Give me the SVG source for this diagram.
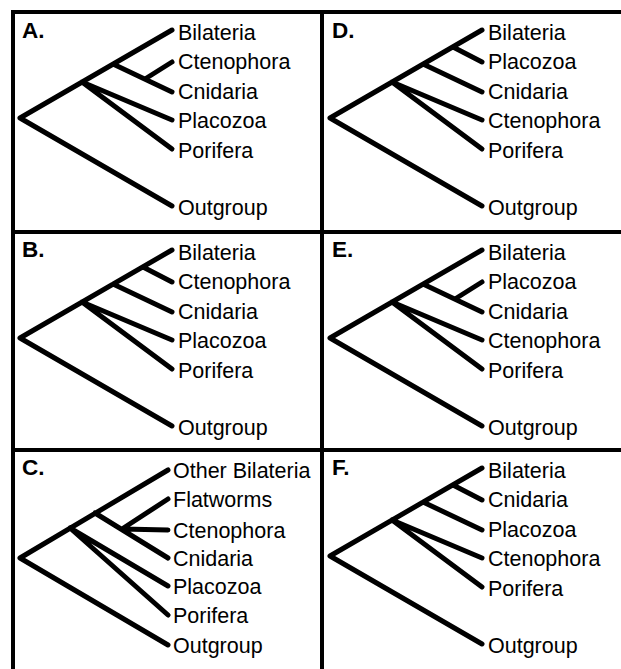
<svg xmlns="http://www.w3.org/2000/svg" width="621" height="669" viewBox="0 0 621 669">
<style>
.frame{stroke:#000;stroke-width:4;fill:none}
.br{stroke:#000;stroke-width:5;stroke-linecap:round;fill:none}
.lb{font-family:"Liberation Sans",Arial,Helvetica,sans-serif;font-size:21.5px;fill:#000}
.pl{font-family:"Liberation Sans",Arial,Helvetica,sans-serif;font-size:22.5px;font-weight:bold;fill:#000}
</style>
<defs>
<g id="treeType1">
<path d="M20,118 L172,30 M20,118 L172,206 M82,82 L172,120 M82,82 L172,149 M113,64 L172,92 M145,79 L172,62"/>
</g>
<g id="treeType2">
<path d="M20,118 L172,30 M20,118 L172,206 M82,82 L172,120 M82,82 L172,149 M113,64 L172,92 M143,47 L172,62"/>
</g>
</defs>
<rect width="621" height="669" fill="#fff"/>
<g id="frame" class="frame">
<path d="M13,10 L13,669 M11,12 L621,12 M322,12 L322,669 M11,232 L621,232 M11,450 L621,450"/>
</g>
<g id="connectors" class="br">
<use href="#treeType1"/>
<use href="#treeType2" transform="translate(0,220)"/>
<path d="M20,558 L168,470 M20,558 L168,645 M70,528 L168,586 M70,528 L168,615 M95,513 L168,558 M122,529 L168,499 M122,529 L168,530"/>
<use href="#treeType2" transform="translate(310,0)"/>
<use href="#treeType1" transform="translate(310,220)"/>
<use href="#treeType2" transform="translate(310,438)"/>
</g>
<g id="panelA">
<text class="pl" x="22" y="38">A.</text>
<g id="A-bilateria"><text class="lb" x="178" y="39.5">Bilateria</text></g>
<g id="A-ctenophora"><text class="lb" x="178" y="69">Ctenophora</text></g>
<g id="A-cnidaria"><text class="lb" x="178" y="98.5">Cnidaria</text></g>
<g id="A-placozoa"><text class="lb" x="178" y="128">Placozoa</text></g>
<g id="A-porifera"><text class="lb" x="178" y="157.5">Porifera</text></g>
<g id="A-outgroup"><text class="lb" x="178" y="215">Outgroup</text></g>
</g>
<g id="panelB" transform="translate(0,220)">
<text class="pl" x="22" y="37">B.</text>
<g id="B-bilateria"><text class="lb" x="178" y="39.5">Bilateria</text></g>
<g id="B-ctenophora"><text class="lb" x="178" y="69">Ctenophora</text></g>
<g id="B-cnidaria"><text class="lb" x="178" y="98.5">Cnidaria</text></g>
<g id="B-placozoa"><text class="lb" x="178" y="128">Placozoa</text></g>
<g id="B-porifera"><text class="lb" x="178" y="157.5">Porifera</text></g>
<g id="B-outgroup"><text class="lb" x="178" y="215">Outgroup</text></g>
</g>
<g id="panelC">
<text class="pl" x="22" y="475">C.</text>
<g id="C-otherbilateria"><text class="lb" x="173" y="478">Other Bilateria</text></g>
<g id="C-flatworms"><text class="lb" x="173" y="507">Flatworms</text></g>
<g id="C-ctenophora"><text class="lb" x="173" y="538">Ctenophora</text></g>
<g id="C-cnidaria"><text class="lb" x="173" y="566">Cnidaria</text></g>
<g id="C-placozoa"><text class="lb" x="173" y="594">Placozoa</text></g>
<g id="C-porifera"><text class="lb" x="173" y="623">Porifera</text></g>
<g id="C-outgroup"><text class="lb" x="173" y="653">Outgroup</text></g>
</g>
<g id="panelD" transform="translate(310,0)">
<text class="pl" x="22" y="38">D.</text>
<g id="D-bilateria"><text class="lb" x="178" y="39.5">Bilateria</text></g>
<g id="D-placozoa"><text class="lb" x="178" y="69">Placozoa</text></g>
<g id="D-cnidaria"><text class="lb" x="178" y="98.5">Cnidaria</text></g>
<g id="D-ctenophora"><text class="lb" x="178" y="128">Ctenophora</text></g>
<g id="D-porifera"><text class="lb" x="178" y="157.5">Porifera</text></g>
<g id="D-outgroup"><text class="lb" x="178" y="215">Outgroup</text></g>
</g>
<g id="panelE" transform="translate(310,220)">
<text class="pl" x="22" y="37">E.</text>
<g id="E-bilateria"><text class="lb" x="178" y="39.5">Bilateria</text></g>
<g id="E-placozoa"><text class="lb" x="178" y="69">Placozoa</text></g>
<g id="E-cnidaria"><text class="lb" x="178" y="98.5">Cnidaria</text></g>
<g id="E-ctenophora"><text class="lb" x="178" y="128">Ctenophora</text></g>
<g id="E-porifera"><text class="lb" x="178" y="157.5">Porifera</text></g>
<g id="E-outgroup"><text class="lb" x="178" y="215">Outgroup</text></g>
</g>
<g id="panelF" transform="translate(310,438)">
<text class="pl" x="22" y="37">F.</text>
<g id="F-bilateria"><text class="lb" x="178" y="39.5">Bilateria</text></g>
<g id="F-cnidaria"><text class="lb" x="178" y="69">Cnidaria</text></g>
<g id="F-placozoa"><text class="lb" x="178" y="98.5">Placozoa</text></g>
<g id="F-ctenophora"><text class="lb" x="178" y="128">Ctenophora</text></g>
<g id="F-porifera"><text class="lb" x="178" y="157.5">Porifera</text></g>
<g id="F-outgroup"><text class="lb" x="178" y="215">Outgroup</text></g>
</g>
</svg>
